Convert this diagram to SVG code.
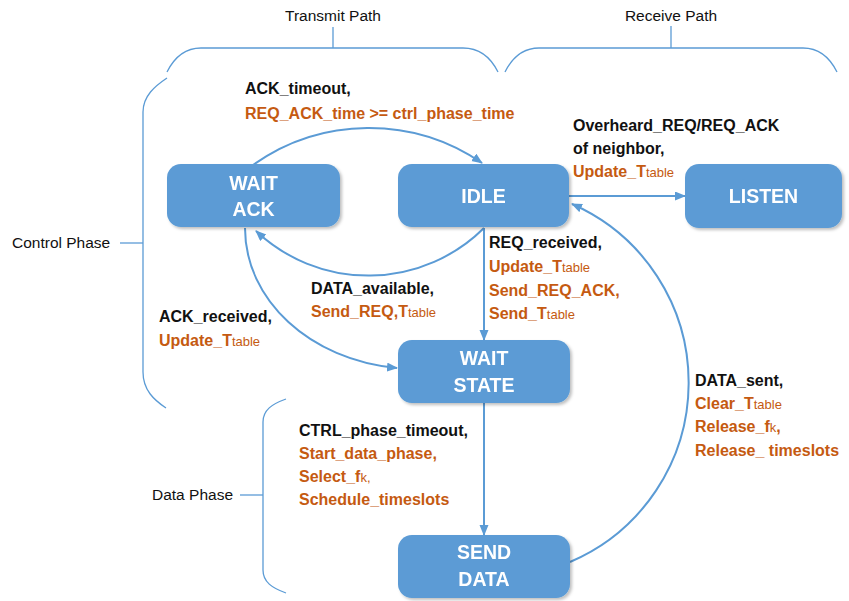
<svg xmlns="http://www.w3.org/2000/svg" width="849" height="601" viewBox="0 0 849 601">
  <style>
    .node rect { fill: #5B9BD5; }
    .node text { fill: #FFFFFF; font-family: "Liberation Sans", Arial, sans-serif; font-weight: bold; font-size: 19.5px; text-anchor: middle; }
    .edge { fill: none; stroke: #5B9BD5; stroke-width: 2; marker-end: url(#arrow); }
    .brace { fill: none; stroke: #5B9BD5; stroke-width: 1.3; }
    .group-label { fill: #111111; font-family: "Liberation Sans", Arial, sans-serif; font-size: 15.5px; }
    .lbl { font-family: "Liberation Sans", Arial, sans-serif; font-weight: bold; font-size: 16px; }
    .ev { fill: #111111; }
    .act { fill: #C55A11; }
    .sub { font-size: 13px; font-weight: normal; }
  </style>
  <defs>
    <marker id="arrow" markerUnits="userSpaceOnUse" markerWidth="11" markerHeight="10" refX="10" refY="4.5" orient="auto">
      <path d="M0,0 L11,4.5 L0,9 z" fill="#5B9BD5"/>
    </marker>
    <filter id="shadow" x="-10%" y="-20%" width="125%" height="150%">
      <feDropShadow dx="2" dy="2" stdDeviation="1.6" flood-color="#000000" flood-opacity="0.25"/>
    </filter>
  </defs>

  <!-- grouping braces -->
  <g id="braces">
    <path class="brace" d="M167,72 C174,58 184,48 201,48 H463 C480,48 491,58 498,72"/>
    <path class="brace" d="M333,48 V27"/>
    <path class="brace" d="M505,72 C512,58 522,48 539,48 H803 C820,48 830,58 837,72"/>
    <path class="brace" d="M671,48 V26"/>
    <path class="brace" d="M167,78 C155,86 143,96 143,112 V372 C143,390 154,400 166,408"/>
    <path class="brace" d="M143,243 H120"/>
    <path class="brace" d="M286,399 C272,404 263,410 263,422 V570 C263,582 272,588 286,593"/>
    <path class="brace" d="M263,495 H240"/>
    <text class="group-label" x="333" y="21" text-anchor="middle">Transmit Path</text>
    <text class="group-label" x="671" y="21" text-anchor="middle">Receive Path</text>
    <text class="group-label" x="12" y="248">Control Phase</text>
    <text class="group-label" x="152" y="500">Data Phase</text>
  </g>

  <!-- transitions -->
  <g id="connectors">
    <path class="edge" d="M253,165 A200,200 0 0 1 482,163"/>
    <path class="edge" d="M484,228 A164,164 0 0 1 256,231"/>
    <path class="edge" d="M245,228 C245,300 310,360 397,368"/>
    <path class="edge" d="M484,228 V340"/>
    <path class="edge" d="M569,196 H685"/>
    <path class="edge" d="M484,403 V535"/>
    <path class="edge" d="M570,562 A195,195 0 0 0 572,204"/>
  </g>

  <!-- transition labels -->
  <g id="edge-labels" class="lbl">
    <text class="ev" x="245" y="94">ACK_timeout,</text>
    <text class="act" x="245" y="119">REQ_ACK_time &gt;= ctrl_phase_time</text>

    <text class="ev" x="573" y="131">Overheard_REQ/REQ_ACK</text>
    <text class="ev" x="573" y="154">of neighbor,</text>
    <text class="act" x="573" y="177">Update_T<tspan class="sub">table</tspan></text>

    <text class="ev" x="489" y="248">REQ_received,</text>
    <text class="act" x="489" y="272">Update_T<tspan class="sub">table</tspan></text>
    <text class="act" x="489" y="296">Send_REQ_ACK,</text>
    <text class="act" x="489" y="319">Send_T<tspan class="sub">table</tspan></text>

    <text class="ev" x="311" y="294">DATA_available,</text>
    <text class="act" x="311" y="317">Send_REQ,T<tspan class="sub">table</tspan></text>

    <text class="ev" x="159" y="322">ACK_received,</text>
    <text class="act" x="159" y="346">Update_T<tspan class="sub">table</tspan></text>

    <text class="ev" x="695" y="386">DATA_sent,</text>
    <text class="act" x="695" y="409">Clear_T<tspan class="sub">table</tspan></text>
    <text class="act" x="695" y="432">Release_f<tspan class="sub">k</tspan>,</text>
    <text class="act" x="695" y="456">Release_ timeslots</text>

    <text class="ev" x="299" y="436">CTRL_phase_timeout,</text>
    <text class="act" x="299" y="459">Start_data_phase,</text>
    <text class="act" x="299" y="482">Select_f<tspan class="sub">k,</tspan></text>
    <text class="act" x="299" y="505">Schedule_timeslots</text>
  </g>

  <!-- states -->
  <g id="wait-ack" class="node" filter="url(#shadow)">
    <rect x="167" y="164" width="173" height="63" rx="14"/>
    <text x="253.5" y="190">WAIT</text>
    <text x="253.5" y="216">ACK</text>
  </g>
  <g id="idle" class="node" filter="url(#shadow)">
    <rect x="398" y="164" width="171" height="63" rx="14"/>
    <text x="483.5" y="203">IDLE</text>
  </g>
  <g id="listen" class="node" filter="url(#shadow)">
    <rect x="685" y="164" width="157" height="64" rx="14"/>
    <text x="763.5" y="203">LISTEN</text>
  </g>
  <g id="wait-state" class="node" filter="url(#shadow)">
    <rect x="398" y="340" width="172" height="63" rx="14"/>
    <text x="484" y="365">WAIT</text>
    <text x="484" y="392">STATE</text>
  </g>
  <g id="send-data" class="node" filter="url(#shadow)">
    <rect x="398" y="535" width="172" height="63" rx="14"/>
    <text x="484" y="559">SEND</text>
    <text x="484" y="586">DATA</text>
  </g>
</svg>
